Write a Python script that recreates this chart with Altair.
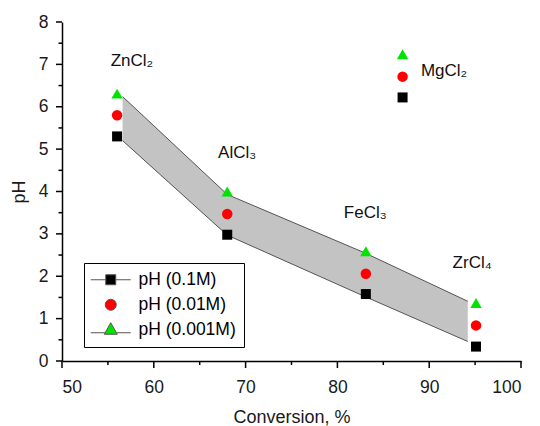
import altair as alt
import pandas as pd

# ---- data ----
salts = ["ZnCl₂", "AlCl₃", "FeCl₃", "ZrCl₄", "MgCl₂"]
conversion = [56.0, 68.0, 83.1, 95.1, 87.1]
ph_01M = [5.30, 2.98, 1.58, 0.34, 6.22]
ph_001M = [5.80, 3.47, 2.06, 0.84, 6.71]
ph_0001M = [6.31, 4.00, 2.59, 1.37, 7.24]

series_names = ["pH (0.1M)", "pH (0.01M)", "pH (0.001M)"]
series_colors = ["#000000", "#ff0000", "#00e400"]

# shaded band (edges)
band_x = [56.6, 68.0, 83.0, 94.2]
band_low = [5.20, 2.97, 1.52, 0.46]
band_high = [6.24, 3.93, 2.55, 1.41]

# salt label anchors (left edge, baseline)
label_x = [55.3, 67.0, 80.7, 92.55, 89.1]
label_y = [6.95, 4.80, 3.37, 2.19, 6.72]

# axis tick values
x_major = [50, 60, 70, 80, 90, 100]
x_minor = [55, 65, 75, 85, 95]
y_major = [0, 1, 2, 3, 4, 5, 6, 7, 8]
y_minor = [0.5, 1.5, 2.5, 3.5, 4.5, 5.5, 6.5, 7.5]

FONT = "Liberation Sans"
W, H = 459, 339

pts = pd.DataFrame({
    "conv": conversion * 3,
    "ph": ph_01M + ph_001M + ph_0001M,
    "series": [series_names[0]] * 5 + [series_names[1]] * 5 + [series_names[2]] * 5,
})
band = pd.DataFrame({"conv": band_x, "low": band_low, "high": band_high})
labels = pd.DataFrame({"conv": label_x, "ph": label_y, "salt": salts})

xscale = alt.Scale(domain=[50, 100], nice=False)
yscale = alt.Scale(domain=[0, 8], nice=False)

xaxis = alt.Axis(
    values=x_major, ticks=False, title="Conversion, %", grid=False,
    labelPadding=17, titlePadding=13,
)
yaxis = alt.Axis(
    values=y_major, ticks=False, title="pH", grid=False,
    labelPadding=14, titlePadding=10,
)

base = alt.Chart(band)

area = base.mark_area(color="#c3c3c3", opacity=1).encode(
    x=alt.X("conv:Q", scale=xscale, axis=xaxis),
    y=alt.Y("low:Q", scale=yscale, axis=yaxis),
    y2="high:Q",
)
top_edge = base.mark_line(color="#444444", strokeWidth=0.9).encode(
    x="conv:Q", y="high:Q"
)
bot_edge = base.mark_line(color="#444444", strokeWidth=0.9).encode(
    x="conv:Q", y="low:Q"
)

# outward axis ticks (major and minor)
def xticks(vals, length):
    return alt.Chart(pd.DataFrame({"conv": vals})).mark_rule(
        color="#000000", strokeWidth=1.5
    ).encode(x="conv:Q", y=alt.value(H), y2=alt.value(H + length))

def yticks(vals, length):
    return alt.Chart(pd.DataFrame({"ph": vals})).mark_rule(
        color="#000000", strokeWidth=1.5
    ).encode(y="ph:Q", x=alt.value(0), x2=alt.value(-length))

tick_layers = [xticks(x_major, 7), xticks(x_minor, 4), yticks(y_major, 6), yticks(y_minor, 3.5)]

shapes = ["square", "circle", "triangle-up"]
sizes = [100, 110, 130]
point_layers = []
for name, col, shp, sz in zip(series_names, series_colors, shapes, sizes):
    point_layers.append(
        alt.Chart(pts).transform_filter(alt.datum.series == name)
        .mark_point(filled=True, opacity=1, shape=shp, size=sz, color=col)
        .encode(x="conv:Q", y="ph:Q")
    )

legend_paths = [
    "M-4,0H-1M1,0H4M-1,-1H1V1H-1Z",
    "M-1.1,0A1.1,1.1,0,1,1,1.1,0A1.1,1.1,0,1,1,-1.1,0Z",
    "M-4,0.6H-1.2M1.2,0.6H4M0,-1.4L1.3,0.9H-1.3Z",
]
leg = alt.Legend(
    title=None,
    orient="none",
    legendX=22,
    legendY=241,
    strokeColor="#000000",
    fillColor="#ffffff",
    padding=8,
    symbolSize=100,
    symbolOpacity=1,
    symbolStrokeWidth=1,
    symbolOffset=10,
    labelOffset=19,
    labelFont=FONT,
    labelFontSize=17.5,
    labelColor="#000000",
    rowPadding=6,
)
legend_layer = alt.Chart(pts).mark_point(
    filled=True, opacity=0, size=100, stroke="#555555", strokeWidth=1
).encode(
    x="conv:Q",
    y="ph:Q",
    color=alt.Color("series:N", scale=alt.Scale(domain=series_names, range=series_colors), legend=leg),
    shape=alt.Shape("series:N", scale=alt.Scale(domain=series_names, range=legend_paths), legend=leg),
)

text = alt.Chart(labels).mark_text(
    align="left", baseline="alphabetic", font=FONT, fontSize=17, color="#111111"
).encode(x="conv:Q", y="ph:Q", text="salt:N")

chart = alt.layer(area, top_edge, bot_edge, *tick_layers, *point_layers, legend_layer, text).properties(
    width=W,
    height=H,
    autosize=alt.AutoSizeParams(type="none"),
    padding={"left": 62, "top": 22, "right": 19, "bottom": 65},
).configure_view(strokeWidth=0).configure_axis(
    domainColor="#000000",
    domainWidth=1.5,
    labelFont=FONT,
    labelFontSize=17.5,
    labelColor="#1a1a1a",
    titleFont=FONT,
    titleFontSize=18,
    titleFontWeight="normal",
    titleColor="#1a1a1a",
)

chart.save("out.html", embed_options={"renderer": "svg", "actions": False})
